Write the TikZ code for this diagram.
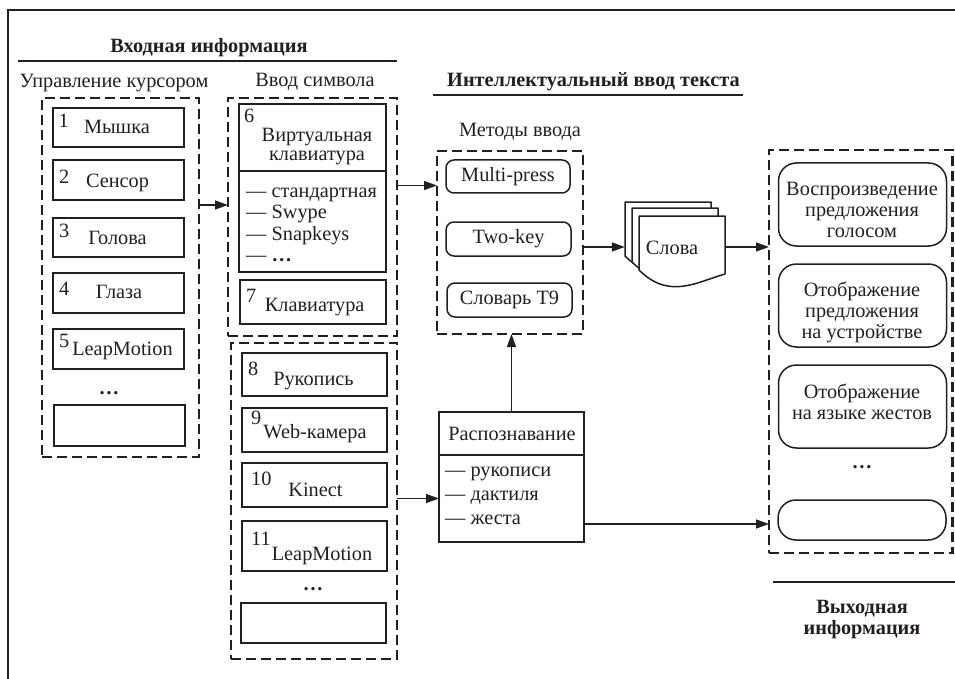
\documentclass[tikz,border=0pt]{standalone}
\usepackage{fontspec}
\setmainfont{Liberation Serif}
\usetikzlibrary{arrows.meta}
\definecolor{ink}{RGB}{35,31,32}
\begin{document}
\begin{tikzpicture}[x=1pt,y=-1pt,
  every node/.style={font=\fontsize{20.3}{21.5}\selectfont, text=ink},
  wh/.style 2 args={minimum width=#1pt,minimum height=#2pt},
  frame/.style={draw=ink,line width=1.6pt,line join=miter},
  dbox/.style={draw=ink,line width=2.2pt,dash pattern=on 10pt off 5pt,inner sep=0pt,outer sep=0pt},
  sbox/.style={draw=ink,line width=1.5pt,inner sep=0pt,outer sep=0pt},
  rbox/.style={sbox,rounded corners=8pt},
  obox/.style={sbox,rounded corners=18pt},
  txt/.style={inner sep=0pt,anchor=base},
  num/.style={inner sep=0pt,anchor=base west},
  mtxt/.style={inner sep=0pt,align=center,font=\fontsize{20.3}{21}\selectfont},
  ltxt/.style={inner sep=0pt,align=left,anchor=west},
  title/.style={txt,font=\fontsize{20.3}{21.5}\selectfont\bfseries},
  rule/.style={draw=ink,line width=1.8pt},
  page/.style={draw=ink,fill=white,line width=1.5pt,line join=round},
  conn/.style={draw=ink,line width=1.3pt,-{Triangle[length=13pt,width=9pt]}}
]
\useasboundingbox (0,0) rectangle (955,679);
\draw[frame] (8,679) -- (8,10) -- (955,10);

% titles
\node[title] (tin) at (209,53) {Входная информация};
\draw[rule] (18,61) -- (397,61);
\node[txt] (tcur) at (114,88) {Управление курсором};
\node[txt] (tsym) at (315,87) {Ввод символа};
\node[title] (tint) at (593.5,87) {Интеллектуальный ввод текста};
\draw[rule] (433,95) -- (743,95);
\node[txt] (tmeth) at (520,137) {Методы ввода};

% left group: cursor control
\node[dbox,wh={157}{359}] (L) at (120.5,277.5) {};
\node[sbox,wh={131}{39}] (b1) at (118.5,127.5) {};
\node[sbox,wh={131}{40}] (b2) at (118.5,180) {};
\node[sbox,wh={131}{39}] (b3) at (118.5,237.5) {};
\node[sbox,wh={131}{40}] (b4) at (118.5,293) {};
\node[sbox,wh={131}{40}] (b5) at (118.5,349) {};
\node[sbox,wh={131}{41}] (b0) at (119.5,425.5) {};
\node[num] (n1) at (58.5,128) {1};
\node[num] (n2) at (59,183) {2};
\node[num] (n3) at (59,237) {3};
\node[num] (n4) at (59,295) {4};
\node[num] (n5) at (59,347) {5};
\node[txt] (t1) at (117,133.5) {Мышка};
\node[txt] (t2) at (117.5,188) {Сенсор};
\node[txt] (t3) at (117.5,244) {Голова};
\node[txt] (t4) at (119,298.5) {Глаза};
\node[txt] (t5) at (122.5,355) {LeapMotion};
\node[txt] (d1) at (109,394) {\textbf{\ldots}};

% middle upper: symbol input
\node[dbox,wh={169}{238}] (M) at (312.5,217) {};
\node[sbox,wh={147}{67}] (vkh) at (312.5,137.5) {};
\node[sbox,wh={147}{101}] (vkl) at (312.5,221.5) {};
\node[sbox,wh={146}{44}] (kb) at (313,302) {};
\node[num] (n6) at (244,123) {6};
\node[inner sep=0pt,align=center,font=\fontsize{20.3}{20}\selectfont] (vkt) at (317,147) {\strut Виртуальная\\клавиатура\strut};
\node[ltxt] (vklt) at (246,225) {\strut— стандартная\\— Swype\\— Snapkeys\\— \textbf{\ldots}\strut};
\node[num] (n7) at (246,302) {7};
\node[txt] (t7) at (314.7,311.7) {Клавиатура};

% middle lower
\node[dbox,wh={166}{316}] (LM) at (314,501) {};
\node[sbox,wh={145}{43}] (b8) at (314.5,374.5) {};
\node[sbox,wh={145}{44}] (b9) at (314.5,430) {};
\node[sbox,wh={145}{44}] (b10) at (314.5,485) {};
\node[sbox,wh={145}{50}] (b11) at (314.5,546) {};
\node[sbox,wh={145}{40}] (b12) at (313.5,623) {};
\node[num] (n8) at (248,375) {8};
\node[num] (n9) at (251,424) {9};
\node[num] (n10) at (251,485) {10};
\node[num] (n11) at (251,545) {11};
\node[txt] (t8) at (313.5,385) {Рукопись};
\node[txt] (t9) at (315,438) {Web-камера};
\node[txt] (t10) at (315.5,496) {Kinect};
\node[txt] (t11) at (322,560) {LeapMotion};
\node[txt] (d2) at (313,590) {\textbf{\ldots}};

% input methods
\node[dbox,wh={146}{183}] (meth) at (510,242.5) {};
\node[rbox,wh={124}{33}] (m1) at (508,176.5) {Multi-press};
\node[rbox,wh={125}{34}] (m2) at (508.5,239) {Two-key};
\node[rbox,wh={125}{34}] (m3) at (509.5,300) {Словарь T9};

% recognition
\node[sbox,wh={145}{43}] (rh) at (511.5,433.5) {};
\node[sbox,wh={145}{87}] (rl) at (511.5,498.5) {};
\node[txt] (rht) at (512,440.5) {Распознавание};
\node[ltxt,font=\fontsize{20.3}{24}\selectfont] (rlt) at (445,495.7) {\strut— рукописи\\— дактиля\\— жеста\strut};

% words (stacked documents)
\foreach \px/\py in {625/202,632/208,639/216}{
  \begin{scope}[shift={(\px,\py)}]
    \draw[page] (0,0) -- (86,0) -- (86,58)
      .. controls (58,66) and (30,84) .. (0,54) -- cycle;
  \end{scope}
}
\node[inner sep=0pt,wh={100}{85}] (words) at (675,247) {};
\node[txt] (wt) at (672,254) {Слова};

% output
\node[dbox,wh={183.5}{403}] (out) at (860.75,351.5) {};
\node[obox,wh={168}{83}] (o1) at (862.5,204.5) {};
\node[obox,wh={168}{83}] (o2) at (862.5,305.5) {};
\node[obox,wh={168}{83}] (o3) at (862.5,406.5) {};
\node[obox,wh={168}{40}] (o4) at (862,520) {};
\node[mtxt] (o1t) at (862,211.8) {\strut Воспроизведение\\предложения\\голосом\strut};
\node[mtxt] (o2t) at (862,312.8) {\strut Отображение\\предложения\\на устройстве\strut};
\node[mtxt] (o3t) at (862,405) {\strut Отображение\\на языке жестов\strut};
\node[txt] (d3) at (862,468) {\textbf{\ldots}};
\draw[rule] (773,582) -- (955,582);
\node[mtxt,font=\fontsize{20.3}{21}\selectfont\bfseries] (tout) at (862,619.3) {\strut Выходная\\информация\strut};

% connectors
\coordinate (a1) at (0,205);
\coordinate (a2) at (0,185.5);
\coordinate (a3) at (0,524);
\draw[conn] (L.east |- a1) -- (M.west |- a1);
\draw[conn] (M.east |- a2) -- (meth.west |- a2);
\draw[conn] (LM.east |- rl.west) -- (rl.west);
\draw[conn] (rh.north) -- (rh.north |- meth.south);
\draw[conn] (meth.east |- words.west) -- (words.west);
\draw[conn] (words.east) -- (out.west |- words.east);
\draw[conn] (rl.east |- a3) -- (out.west |- a3);
\end{tikzpicture}
\end{document}
